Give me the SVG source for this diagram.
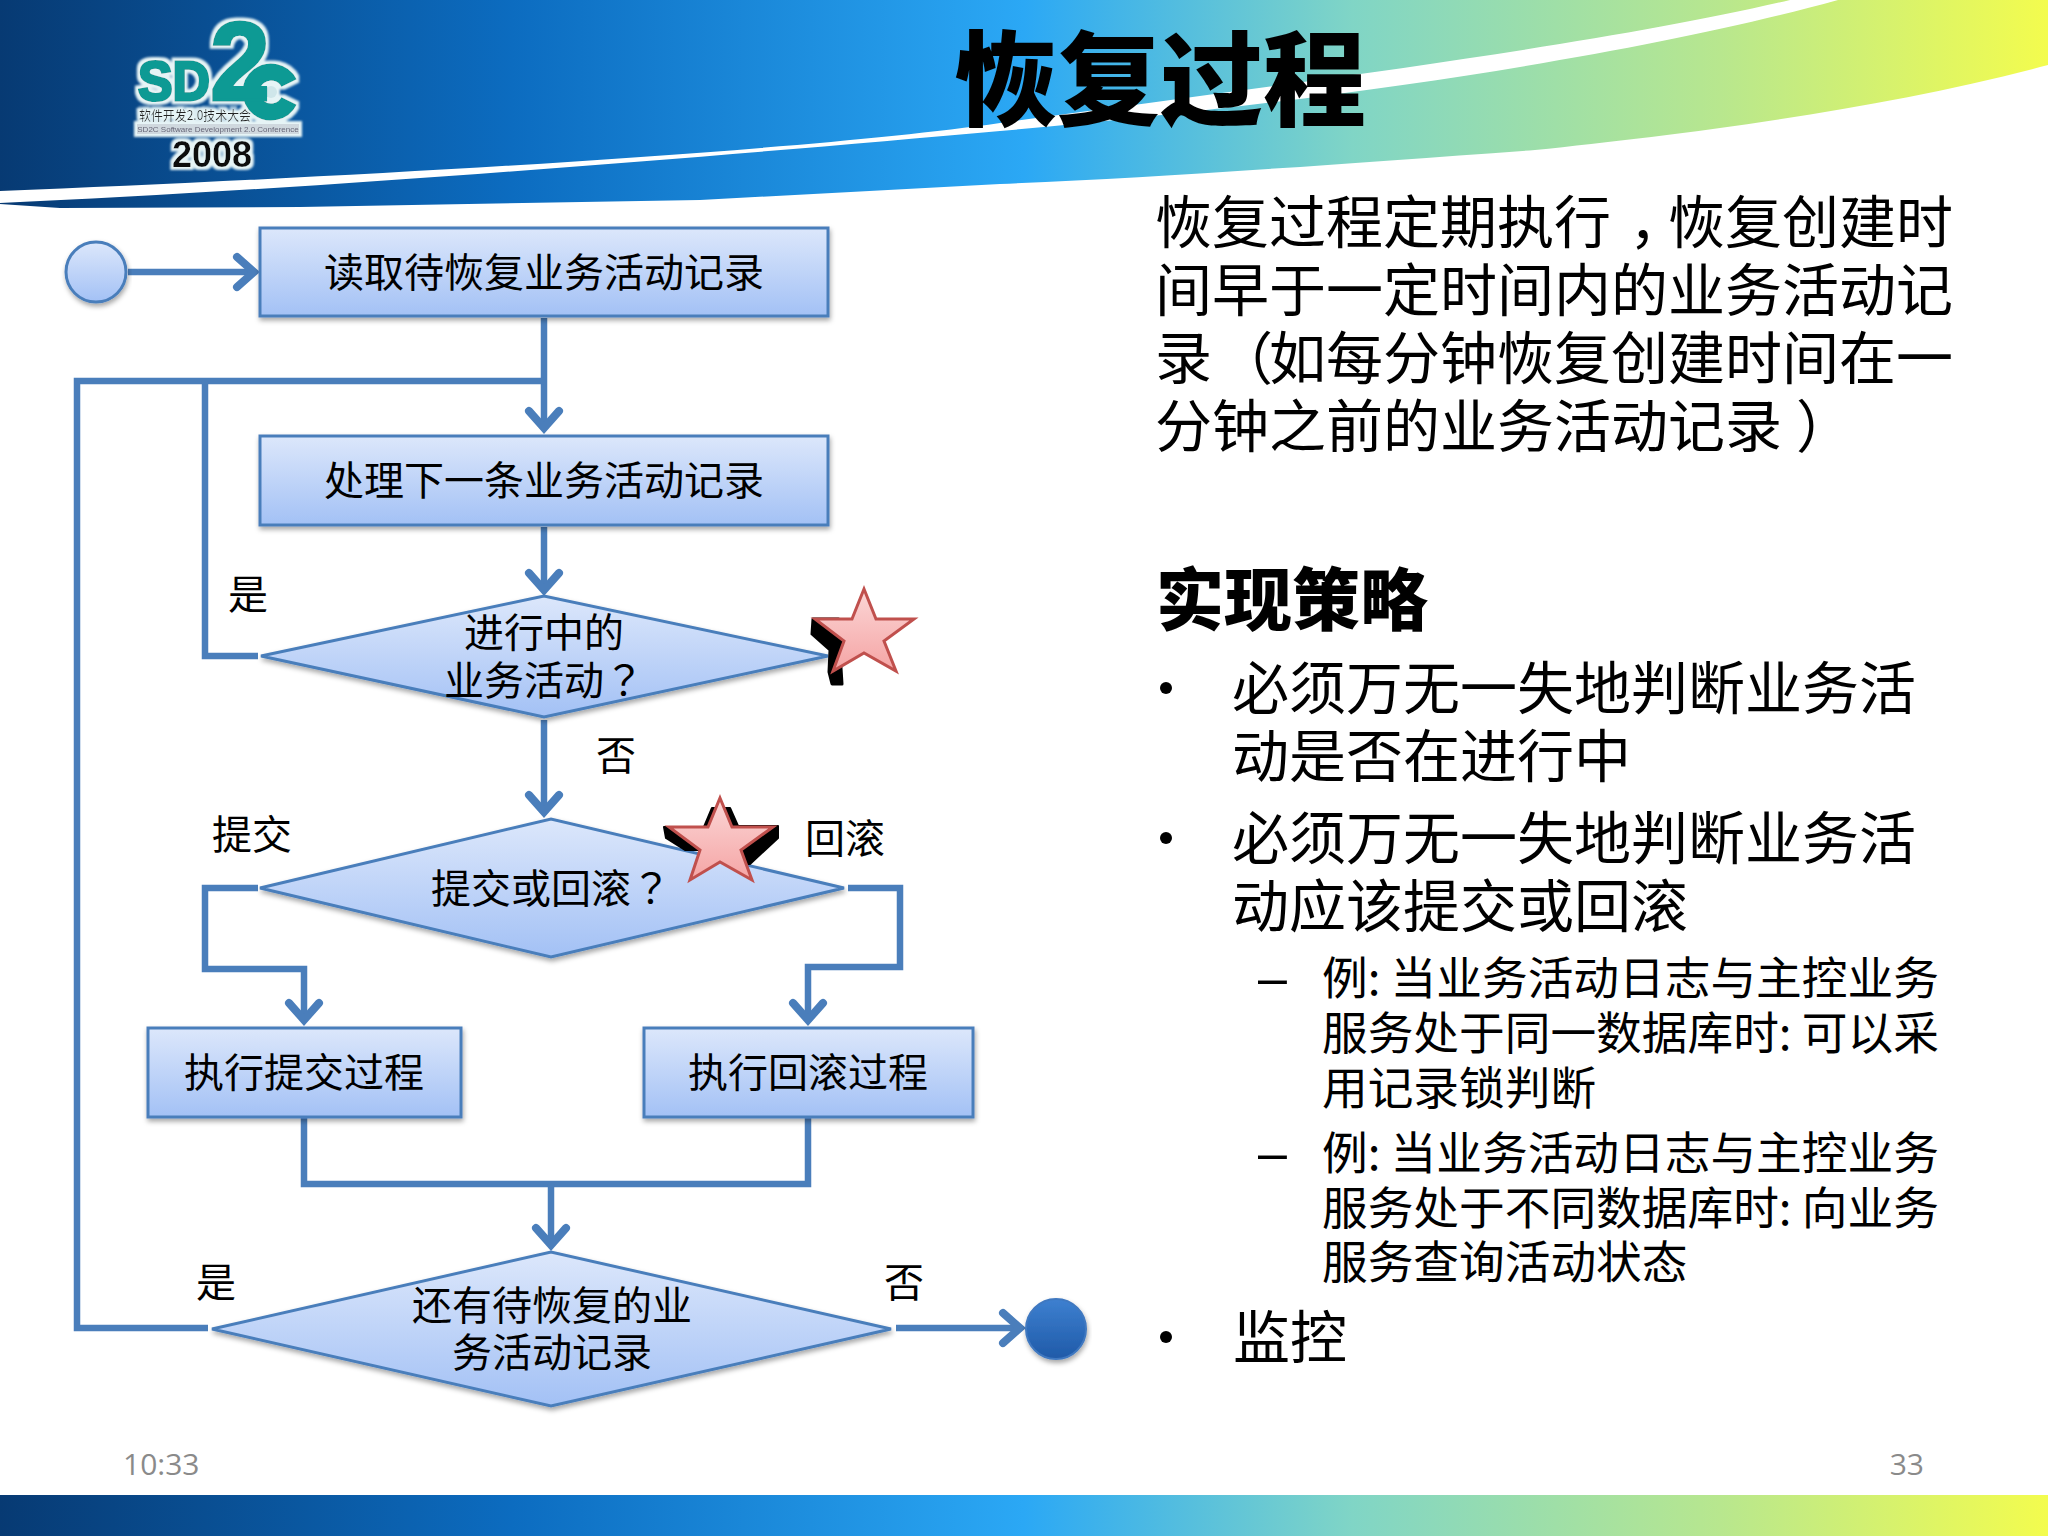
<svg xmlns="http://www.w3.org/2000/svg" width="2048" height="1536" viewBox="0 0 2048 1536">
<style>
text{font-family:"Noto Sans CJK SC","Noto Sans",sans-serif;fill:#000}
tspan.p{font-family:"Noto Sans CJK TC","Noto Sans",sans-serif}
.n{font-size:40px;text-anchor:middle}
.l{font-size:40px}
.b{font-size:57px}
.s{font-size:45.7px}
.d{font-size:52px;font-family:"Liberation Sans",sans-serif}
.c{fill:none;stroke:#4a7ebb;stroke-width:6.5;stroke-linejoin:miter}
.a{marker-end:url(#arr)}
.shape{fill:url(#nodeFill);stroke:#4a7ebb;stroke-width:3;filter:url(#sh)}
.star{fill:url(#starFill);stroke:#c0504d;stroke-width:3}
.foot{font-size:30px;fill:#8a8a8a;font-family:"Open Sans","Noto Sans",sans-serif}
.logo{font-family:"Liberation Sans",sans-serif;font-weight:700;fill:#0f9a94;stroke:#0f9a94;stroke-width:3}
</style>
<defs>
<linearGradient id="band" x1="0" y1="0" x2="1" y2="0">
<stop offset="0" stop-color="#073a73"/><stop offset=".25" stop-color="#0c6cc0"/><stop offset=".5" stop-color="#2ba8f5"/><stop offset=".66" stop-color="#80d5c6"/><stop offset=".84" stop-color="#b8e78e"/><stop offset="1" stop-color="#f3fc4e"/>
</linearGradient>
<linearGradient id="nodeFill" x1="0" y1="0" x2="0" y2="1"><stop offset="0" stop-color="#dce7fb"/><stop offset="1" stop-color="#a3c1f5"/></linearGradient>
<linearGradient id="endFill" x1="0" y1="0" x2="0" y2="1"><stop offset="0" stop-color="#3d80d0"/><stop offset="1" stop-color="#1f5aa8"/></linearGradient>
<linearGradient id="starFill" x1="0" y1="0" x2="0" y2="1"><stop offset="0" stop-color="#fbd6d6"/><stop offset="1" stop-color="#f5a5a5"/></linearGradient>
<filter id="sh" x="-10%" y="-20%" width="120%" height="140%"><feDropShadow dx="1" dy="3" stdDeviation="2.5" flood-color="#000" flood-opacity=".35"/></filter>
<filter id="glow" x="-20%" y="-20%" width="140%" height="140%"><feMorphology in="SourceAlpha" operator="dilate" radius="3" result="d"/><feFlood flood-color="#e6f4f6"/><feComposite in2="d" operator="in" result="g"/><feGaussianBlur in="g" stdDeviation="1" result="b"/><feMerge><feMergeNode in="b"/><feMergeNode in="SourceGraphic"/></feMerge></filter>
<marker id="arr" markerUnits="userSpaceOnUse" markerWidth="36" markerHeight="44" refX="28" refY="22" orient="auto">
<path d="M10 7 L27 22 L10 37" fill="none" stroke="#4a7ebb" stroke-width="8" stroke-linecap="round" stroke-linejoin="miter"/>
</marker>
</defs>
<rect width="2048" height="1536" fill="#fff"/>
<g id="banner">
<path d="M0 0H2048V65C1880 110 1680 135 1535 150C1330 165 1150 178 1000 184L700 200 300 207 60 208 0 204Z" fill="url(#band)"/>
<path d="M0 191C350 177 800 152 1000 123C1300 82 1600 45 1790 0H1838C1650 52 1350 100 1000 131C700 158 300 190 0 203Z" fill="#fff"/>
<rect y="1495" width="2048" height="41" fill="url(#band)"/>
</g>
<g id="logo" filter="url(#glow)">
<rect x="137" y="124" width="162" height="10" fill="#cfd8de"/>
<path d="M289 83A20 20 0 1 0 289 101" fill="none" stroke="#0f9a94" stroke-width="17"/>
<circle cx="271" cy="92" r="6" fill="#cfe6ea"/>
<text class="logo" x="138" y="100" font-size="56" textLength="72" lengthAdjust="spacingAndGlyphs">SD</text>
<text class="logo" x="210" y="100" font-size="112" textLength="60" lengthAdjust="spacingAndGlyphs">2</text>
<text x="139" y="120" font-size="13" textLength="112" lengthAdjust="spacingAndGlyphs" style="fill:#222">软件开发2.0技术大会</text>
<text x="218" y="132" font-size="8" text-anchor="middle" style="fill:#667;font-family:'Liberation Sans',sans-serif">SD2C Software Development 2.0 Conference</text>
<text x="212" y="167" font-size="36" font-weight="700" text-anchor="middle" style="font-family:'Liberation Sans',sans-serif;fill:#111">2008</text>
</g>
<text id="title" x="1160" y="118" font-size="103" font-weight="900" text-anchor="middle">恢复过程</text>
<g id="connectors">
<path class="c a" d="M128 272H255"/>
<path class="c a" d="M544 318V429"/>
<path class="c" d="M544 381H77V1328H208"/>
<path class="c" d="M205 381V656H258"/>
<path class="c a" d="M544 527V591"/>
<path class="c a" d="M544 720V813"/>
<path class="c a" d="M258 888H205V969H304V1021"/>
<path class="c a" d="M848 888H900V967H808V1021"/>
<path class="c" d="M304 1118V1184H808V1118"/>
<path class="c a" d="M551 1184V1246"/>
<path class="c a" d="M896 1328H1021"/>
</g>
<g id="start"><circle class="shape" cx="96" cy="272" r="30"/></g>
<g id="n1"><rect class="shape" x="260" y="228" width="568" height="88"/><text class="n" x="544" y="287">读取待恢复业务活动记录</text></g>
<g id="n2"><rect class="shape" x="260" y="436" width="568" height="89"/><text class="n" x="544" y="495">处理下一条业务活动记录</text></g>
<g id="d1"><path class="shape" d="M261 656L544 596 828 656 544 717Z"/><text class="n" x="544" y="647">进行中的</text><text class="n" x="544" y="695">业务活动<tspan class="p">？</tspan></text></g>
<g id="d2"><path class="shape" d="M260 888L551 819 844 888 551 957Z"/><text class="n" x="551" y="903">提交或回滚<tspan class="p">？</tspan></text></g>
<g id="n3"><rect class="shape" x="148" y="1028" width="313" height="89"/><text class="n" x="304" y="1087">执行提交过程</text></g>
<g id="n4"><rect class="shape" x="644" y="1028" width="329" height="89"/><text class="n" x="808" y="1087">执行回滚过程</text></g>
<g id="d3"><path class="shape" d="M212 1329L551 1252 891 1329 551 1406Z"/><text class="n" x="552" y="1320">还有待恢复的业</text><text class="n" x="552" y="1367">务活动记录</text></g>
<g id="end"><circle cx="1056" cy="1329" r="30" fill="url(#endFill)" stroke="#3f78c0" stroke-width="2" filter="url(#sh)"/></g>
<g id="labels">
<text class="l" x="228" y="609">是</text>
<text class="l" x="596" y="770">否</text>
<text class="l" x="212" y="849">提交</text>
<text class="l" x="805" y="853">回滚</text>
<text class="l" x="196" y="1297">是</text>
<text class="l" x="884" y="1297">否</text>
</g>
<g id="star1">
<path d="M813 619H838L846 622 840 652 842 684 832 684 829 672 830 650 812 634Z" fill="#000" stroke="#000" stroke-width="3" stroke-linejoin="round"/>
<path class="star" d="M864 589L876 619H914L884 641 896 671 864 653 833 671 844 641 815 619H852Z"/>
</g>
<g id="star2">
<path d="M664 827H704L712 808H730L738 826H778V838L750 864H745L741 850H700H685L666 838Z" fill="#000" stroke="#000" stroke-width="2" stroke-linejoin="round"/>
<path class="star" d="M720 798L732 827H773L741 850 752 880 720 862 690 880 700 850 669 827H708Z"/>
</g>
<g id="body">
<text class="b" x="1155" y="243">恢复过程定期执行<tspan dx="18">，</tspan><tspan dx="-18">恢复创建时</tspan></text>
<text class="b" x="1155" y="311">间早于一定时间内的业务活动记</text>
<text class="b" x="1155" y="379">录<tspan class="p" dx="4">（</tspan><tspan dx="-4">如每分钟恢复创建时间在一</tspan></text>
<text class="b" x="1155" y="447">分钟之前的业务活动记录<tspan class="p" dx="14">）</tspan></text>
<text x="1156" y="625" font-size="68" font-weight="900">实现策略</text>
<circle cx="1166" cy="688" r="6" fill="#000"/>
<text class="b" x="1232" y="709">必须万无一失地判断业务活</text>
<text class="b" x="1232" y="777">动是否在进行中</text>
<circle cx="1166" cy="838" r="6" fill="#000"/>
<text class="b" x="1232" y="859">必须万无一失地判断业务活</text>
<text class="b" x="1232" y="927">动应该提交或回滚</text>
<text class="d" x="1258" y="995">–</text>
<text class="s" x="1322" y="995">例: 当业务活动日志与主控业务</text>
<text class="s" x="1322" y="1050">服务处于同一数据库时: 可以采</text>
<text class="s" x="1322" y="1105">用记录锁判断</text>
<text class="d" x="1258" y="1170">–</text>
<text class="s" x="1322" y="1170">例: 当业务活动日志与主控业务</text>
<text class="s" x="1322" y="1225">服务处于不同数据库时: 向业务</text>
<text class="s" x="1322" y="1279">服务查询活动状态</text>
<circle cx="1166" cy="1337" r="6" fill="#000"/>
<text class="b" x="1233" y="1358">监控</text>
</g>
<g id="footer">
<text class="foot" x="123" y="1475">10:33</text>
<text class="foot" x="1924" y="1475" text-anchor="end">33</text>
</g>
</svg>
